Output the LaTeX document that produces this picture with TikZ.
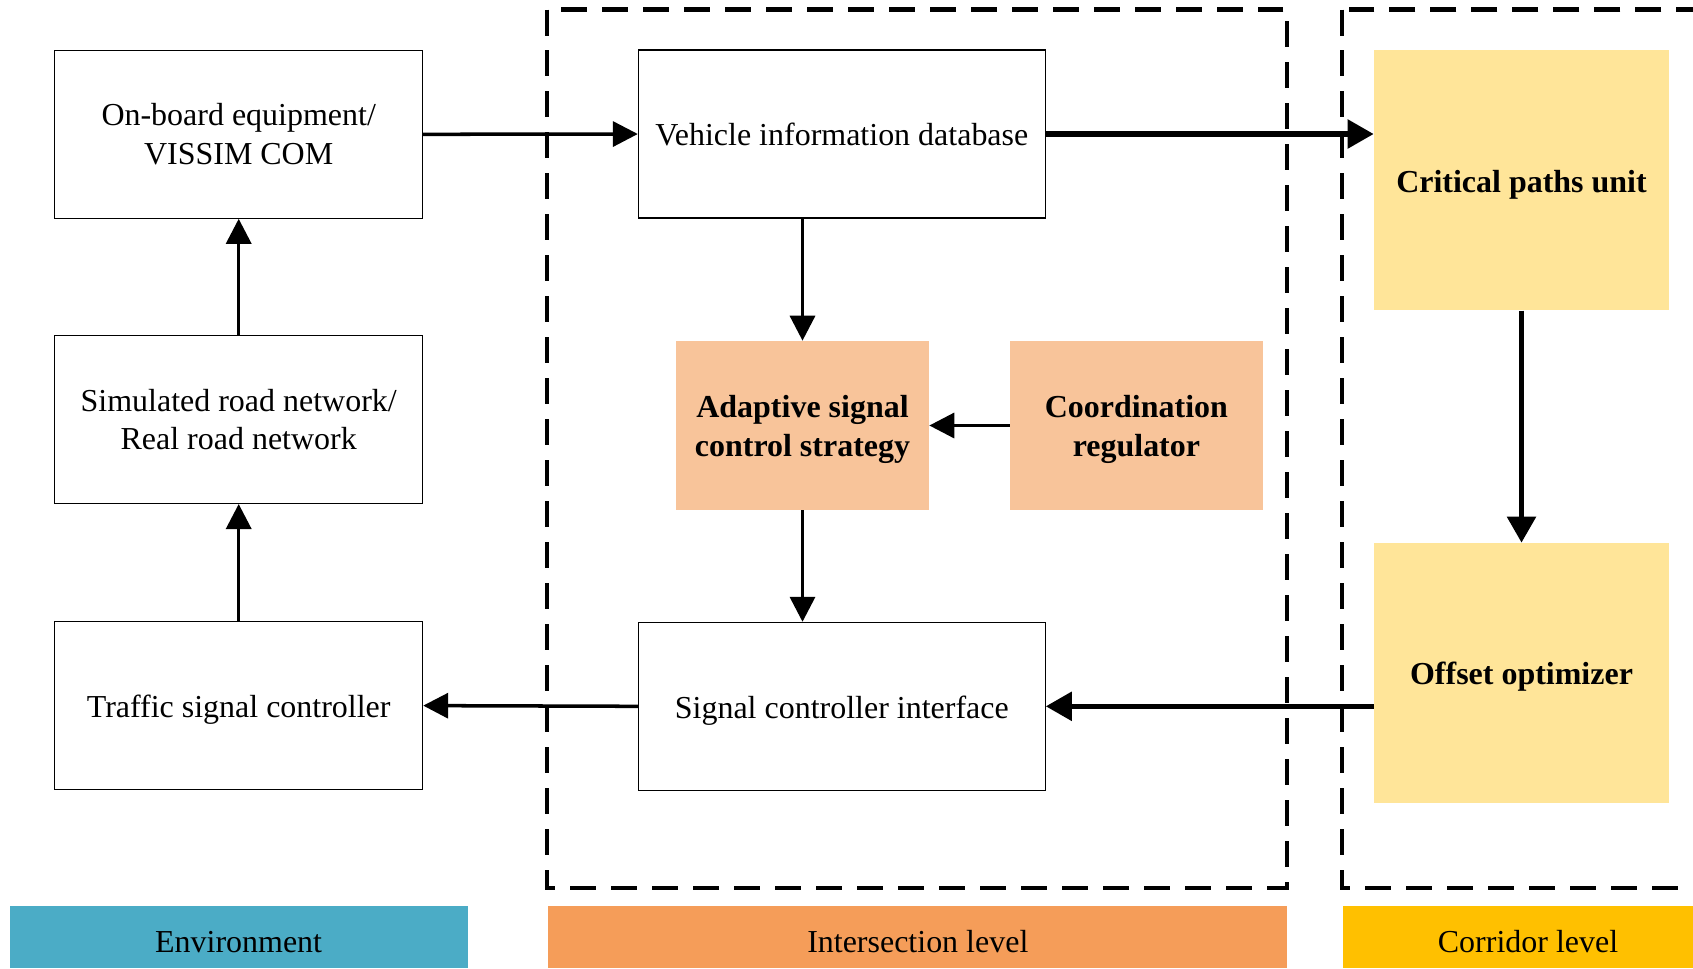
\documentclass[tikz,border=0pt]{standalone}
\usepackage{fontspec}
\setmainfont{Liberation Serif}
\usetikzlibrary{arrows.meta}
\definecolor{envblue}{HTML}{4BACC6}
\definecolor{interorange}{HTML}{F59D59}
\definecolor{corrgold}{HTML}{FFC000}
\definecolor{lightorange}{HTML}{F8C49A}
\definecolor{lightgold}{HTML}{FFE599}

\begin{document}
\begin{tikzpicture}[x=0.02cm, y=-0.02cm,
        every node/.style={font=\fontsize{18.2}{22}\selectfont, align=center, inner sep=0pt},
        whitebox/.style={draw, line width=0.6pt, fill=white},
        tintbox/.style={fill=#1, font=\fontsize{18.2}{22}\selectfont\bfseries},
        lowtext/.style={text height=0.61cm},
        lowtwolines/.style={text height=1.38cm},
        levelbar/.style={fill=#1, minimum height=1.24cm, lowtext},
        flowarrow/.style={line width=2pt, -{Triangle[length=0.5cm, width=0.5cm]}},
        mainarrow/.style={line width=3.1pt, -{Triangle[length=0.52cm, width=0.56cm]}},
        zone/.style={line width=2.3pt, dash pattern=on 0.52cm off 0.3cm}]
        \useasboundingbox (0,0) rectangle (1693,968);
        \clip (0,0) rectangle (1693,968);

        \draw[zone] (547,9.5) rectangle (1287,888);
        \draw[zone] (1342,9.5) rectangle (1730,888);

        \node[whitebox, minimum width=7.36cm, minimum height=3.36cm] (onboard) at (238.7,134.3) {On-board equipment/\\VISSIM COM};
        \node[whitebox, minimum width=7.36cm, minimum height=3.36cm] (simnet) at (238.7,419.5) {Simulated road network/\\Real road network};
        \node[whitebox, lowtext, minimum width=7.36cm, minimum height=3.36cm] (tsc) at (238.7,705.6) {Traffic signal controller};

        \node[whitebox, minimum width=8.14cm, minimum height=3.36cm] (vdb) at (841.8,134) {Vehicle information database};
        \node[tintbox=lightorange, lowtwolines, minimum width=5.06cm, minimum height=3.38cm] (adapt) at (802.5,425.5) {Adaptive signal\\control strategy};
        \node[tintbox=lightorange, lowtwolines, minimum width=5.06cm, minimum height=3.38cm] (coord) at (1136.4,425.5) {Coordination\\regulator};
        \node[whitebox, lowtext, minimum width=8.14cm, minimum height=3.36cm] (sci) at (841.8,706.3) {Signal controller interface};

        \node[tintbox=lightgold, lowtext, minimum width=5.9cm, minimum height=5.2cm] (crit) at (1521.5,180.3) {Critical paths unit};
        \node[tintbox=lightgold, lowtext, minimum width=5.9cm, minimum height=5.2cm] (offs) at (1521.5,673) {Offset optimizer};

        \node[levelbar=envblue, minimum width=9.16cm] (envbar) at (238.6,937) {Environment};
        \node[levelbar=interorange, minimum width=14.78cm] (interbar) at (917.8,937) {Intersection level};
        \node[levelbar=corrgold, minimum width=7.4cm] (corrbar) at (1528,937) {Corridor level};

        \draw[flowarrow] (onboard.east) -- (vdb.west);
        \draw[flowarrow] (vdb.south -| adapt.north) -- (adapt.north);
        \draw[flowarrow] (coord.west) -- (adapt.east);
        \draw[flowarrow] (adapt.south) -- (adapt.south |- sci.north);
        \draw[flowarrow] (sci.west) -- (tsc.east);
        \draw[flowarrow] (tsc.north) -- (simnet.south);
        \draw[flowarrow] (simnet.north) -- (onboard.south);

        \draw[mainarrow] (vdb.east) -- (vdb.east -| crit.west);
        \draw[mainarrow] (crit.south) -- (offs.north);
        \draw[mainarrow] (offs.west |- sci.east) -- (sci.east);
      \end{tikzpicture}
\end{document}
